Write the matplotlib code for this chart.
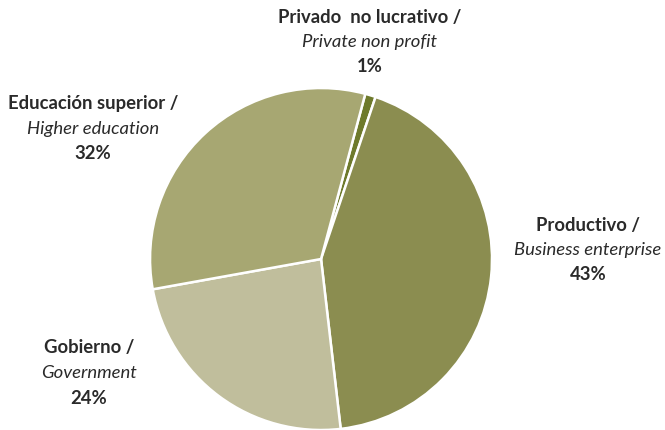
import matplotlib
matplotlib.use("Agg")
import matplotlib.pyplot as plt

# sector shares (%), clockwise from the top
sectors_es = ["Privado  no lucrativo", "Productivo", "Gobierno", "Educación superior"]
sectors_en = ["Private non profit", "Business enterprise", "Government", "Higher education"]
shares = [1, 43, 24, 32]
pct_labels = ["1%", "43%", "24%", "32%"]
colors = ["#6e7a2c", "#8b8d50", "#c0be9c", "#a7a772"]

INK = "#2a2a2a"
FONT = "Lato"

fig = plt.figure(figsize=(6.65, 4.3), dpi=100)
ax = fig.add_axes([0.2256, 0.0, 0.5143, 0.7953])
ax.pie(shares, colors=colors, startangle=75, counterclock=False,
       wedgeprops=dict(edgecolor="white", linewidth=1.8))
ax.set_xlim(-1, 1)
ax.set_ylim(-1, 1)
ax.set_aspect("equal")
ax.axis("off")

# label anchors in figure pixels (x centre, y of first line)
label_pos = [(370, 17), (588, 225), (89, 348), (93, 104)]
W, H = 665, 430
for es, en, pct, (px, py) in zip(sectors_es, sectors_en, pct_labels, label_pos):
    x = px / W
    for i, (txt, style, weight) in enumerate([(es + " /", "normal", "bold"),
                                              (en, "italic", "normal"),
                                              (pct, "normal", "bold")]):
        fig.text(x, 1 - (py + 25 * i) / H, txt, ha="center", va="center",
                 fontsize=13.3, fontstyle=style, fontweight=weight,
                 color=INK, family=FONT)

fig.savefig("out.png", dpi=100)
